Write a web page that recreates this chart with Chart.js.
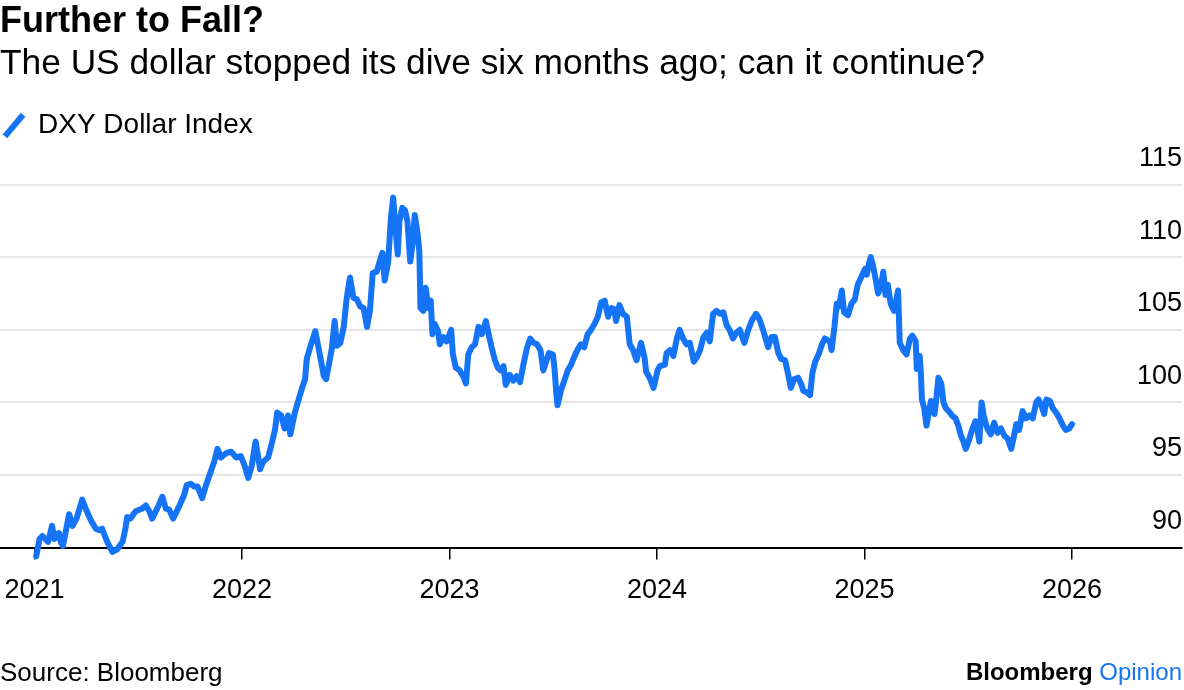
<!DOCTYPE html>
<html>
<head>
<meta charset="utf-8">
<title>Further to Fall?</title>
<script src="https://cdn.jsdelivr.net/npm/chart.js@4.4.1/dist/chart.umd.min.js"></script>
<style>
  html, body { margin: 0; padding: 0; background: #fff; }
  #wrap { position: relative; width: 1184px; height: 690px; font-family: 'Liberation Sans', Arial, Helvetica, sans-serif; color: #000; }
  #chart { position: absolute; left: 0; top: 0; }
  .foot { position: absolute; white-space: nowrap; }
  #source { left: 0; top: 659px; font-size: 26px; line-height: 26px; }
  #brand { right: 2px; top: 660px; font-size: 24px; line-height: 24px; }
  #brand b { font-weight: bold; }
  #brand span { color: #1474f5; }
</style>
</head>
<body>
<div id="wrap">
  <canvas id="chart" width="1184" height="690"></canvas>
  <div class="foot" id="source">Source: Bloomberg</div>
  <div class="foot" id="brand"><b>Bloomberg</b> <span>Opinion</span></div>
</div>
<script>
// DXY readings taken off the chart, roughly weekly, with the spikes kept
const dates = [
  '2021-01-04', '2021-01-10', '2021-01-15', '2021-01-25', '2021-02-01', '2021-02-05', '2021-02-13', '2021-02-16',
  '2021-02-20', '2021-02-25', '2021-03-03', '2021-03-09', '2021-03-16', '2021-03-26', '2021-04-01', '2021-04-10',
  '2021-04-19', '2021-04-25', '2021-04-30', '2021-05-09', '2021-05-18', '2021-05-27', '2021-06-05', '2021-06-10',
  '2021-06-13', '2021-06-19', '2021-06-28', '2021-07-10', '2021-07-16', '2021-07-22', '2021-07-27', '2021-08-05',
  '2021-08-14', '2021-08-20', '2021-08-26', '2021-09-02', '2021-09-12', '2021-09-21', '2021-09-26', '2021-10-03',
  '2021-10-09', '2021-10-15', '2021-10-23', '2021-10-29', '2021-11-05', '2021-11-13', '2021-11-19', '2021-11-25',
  '2021-12-04', '2021-12-13', '2021-12-22', '2021-12-30',
  '2022-01-06', '2022-01-12', '2022-01-18', '2022-01-25', '2022-02-02', '2022-02-07', '2022-02-16', '2022-02-22',
  '2022-02-28', '2022-03-04', '2022-03-11', '2022-03-17', '2022-03-23', '2022-03-27', '2022-04-04', '2022-04-10',
  '2022-04-16', '2022-04-22', '2022-04-25', '2022-05-01', '2022-05-10', '2022-05-16', '2022-05-25', '2022-05-29',
  '2022-06-02', '2022-06-08', '2022-06-13', '2022-06-17', '2022-06-23', '2022-06-29', '2022-07-04', '2022-07-10',
  '2022-07-16', '2022-07-22', '2022-07-28', '2022-08-03', '2022-08-09', '2022-08-14', '2022-08-19', '2022-08-26',
  '2022-09-01', '2022-09-05', '2022-09-09', '2022-09-15', '2022-09-20', '2022-09-24', '2022-09-28', '2022-10-02',
  '2022-10-05', '2022-10-10', '2022-10-15', '2022-10-19', '2022-10-24', '2022-10-28', '2022-11-01', '2022-11-06',
  '2022-11-09', '2022-11-11', '2022-11-16', '2022-11-20', '2022-11-25', '2022-11-29', '2022-12-02', '2022-12-06',
  '2022-12-12', '2022-12-15', '2022-12-21', '2022-12-27',
  '2023-01-04', '2023-01-07', '2023-01-12', '2023-01-19', '2023-01-25', '2023-01-30', '2023-02-03', '2023-02-09',
  '2023-02-15', '2023-02-21', '2023-02-27', '2023-03-06', '2023-03-12', '2023-03-16', '2023-03-22', '2023-03-27',
  '2023-04-01', '2023-04-06', '2023-04-10', '2023-04-17', '2023-04-23', '2023-04-29', '2023-05-05', '2023-05-11',
  '2023-05-17', '2023-05-23', '2023-05-29', '2023-06-04', '2023-06-10', '2023-06-15', '2023-06-25', '2023-07-02',
  '2023-07-05', '2023-07-08', '2023-07-10', '2023-07-16', '2023-07-22', '2023-07-28', '2023-08-03', '2023-08-08',
  '2023-08-14', '2023-08-20', '2023-08-26', '2023-09-01', '2023-09-07', '2023-09-13', '2023-09-19', '2023-09-25',
  '2023-10-01', '2023-10-07', '2023-10-13', '2023-10-18', '2023-10-21', '2023-10-27', '2023-11-02', '2023-11-09',
  '2023-11-14', '2023-11-20', '2023-11-26', '2023-12-04', '2023-12-10', '2023-12-13', '2023-12-19', '2023-12-26',
  '2024-01-02', '2024-01-06', '2024-01-15', '2024-01-18', '2024-01-24', '2024-01-30', '2024-02-05', '2024-02-10',
  '2024-02-16', '2024-02-22', '2024-02-28', '2024-03-06', '2024-03-11', '2024-03-17', '2024-03-23', '2024-03-29',
  '2024-04-03', '2024-04-09', '2024-04-15', '2024-04-21', '2024-04-27', '2024-05-03', '2024-05-08', '2024-05-14',
  '2024-05-20', '2024-05-26', '2024-06-03', '2024-06-10', '2024-06-17', '2024-06-24', '2024-06-30', '2024-07-06',
  '2024-07-12', '2024-07-15', '2024-07-21', '2024-07-27', '2024-08-02', '2024-08-07', '2024-08-14', '2024-08-20',
  '2024-08-24', '2024-08-30', '2024-09-06', '2024-09-11', '2024-09-15', '2024-09-21', '2024-09-27', '2024-10-01',
  '2024-10-06', '2024-10-12', '2024-10-18', '2024-10-23', '2024-11-01', '2024-11-04', '2024-11-09', '2024-11-13',
  '2024-11-17', '2024-11-22', '2024-11-26', '2024-12-03', '2024-12-09', '2024-12-15', '2024-12-20', '2024-12-26',
  '2025-01-02', '2025-01-05', '2025-01-09', '2025-01-12', '2025-01-16', '2025-01-20', '2025-01-25', '2025-01-30',
  '2025-02-03', '2025-02-07', '2025-02-11', '2025-02-16', '2025-02-22', '2025-03-01', '2025-03-04', '2025-03-10',
  '2025-03-16', '2025-03-22', '2025-03-26', '2025-04-01', '2025-04-03', '2025-04-08', '2025-04-10', '2025-04-12',
  '2025-04-16', '2025-04-20', '2025-04-24', '2025-04-28', '2025-05-04', '2025-05-07', '2025-05-11', '2025-05-16',
  '2025-05-20', '2025-05-24', '2025-05-29', '2025-06-04', '2025-06-10', '2025-06-15', '2025-06-19', '2025-06-24',
  '2025-06-28', '2025-07-03', '2025-07-09', '2025-07-15', '2025-07-19', '2025-07-22', '2025-07-26', '2025-07-30',
  '2025-08-05', '2025-08-11', '2025-08-17', '2025-08-23', '2025-08-29', '2025-09-04', '2025-09-10', '2025-09-16',
  '2025-09-20', '2025-09-25', '2025-09-30', '2025-10-06', '2025-10-12', '2025-10-18', '2025-10-24', '2025-10-30',
  '2025-11-03', '2025-11-08', '2025-11-13', '2025-11-17', '2025-11-23', '2025-11-28', '2025-12-04', '2025-12-10',
  '2025-12-16', '2025-12-21', '2025-12-27', '2026-01-01'
];

const dxyValues = [
  89.4, 90.6, 90.8, 90.4, 91.5, 90.6, 91.0, 90.4,
  90.1, 91.1, 92.3, 91.5, 92.0, 93.3, 92.7, 91.9,
  91.3, 91.2, 91.3, 90.4, 89.7, 89.9, 90.4, 91.3,
  92.1, 92.0, 92.5, 92.7, 92.9, 92.5, 92.0, 92.7,
  93.5, 92.7, 92.6, 92.0, 92.8, 93.6, 94.3, 94.4,
  94.2, 94.2, 93.4, 94.2, 95.0, 95.9, 96.8, 96.2,
  96.5, 96.6, 96.2, 96.3,
  95.6, 94.8, 95.6, 97.3, 95.4, 95.9, 96.2, 97.1,
  98.1, 99.3, 99.1, 98.2, 99.1, 97.8, 99.3, 100.1,
  100.9, 101.6, 103.0, 103.8, 104.9, 103.7, 101.8, 101.6,
  102.4, 103.7, 105.6, 103.9, 104.1, 105.2, 107.1, 108.6,
  107.2, 107.1, 106.6, 106.5, 105.2, 106.3, 108.9, 109.0,
  109.8, 110.3, 108.4, 109.6, 112.7, 114.1, 112.0, 110.2,
  112.5, 113.4, 113.2, 112.5, 109.7, 110.9, 112.9, 111.6,
  110.4, 106.5, 106.3, 107.9, 106.5, 107.0, 104.7, 105.4,
  104.9, 104.0, 104.5, 104.2,
  105.0, 103.3, 102.4, 102.2, 101.8, 101.3, 103.3, 103.8,
  104.0, 105.2, 104.7, 105.6, 104.5, 103.8, 102.9, 102.4,
  102.2, 102.5, 101.2, 101.9, 101.5, 101.8, 101.4, 102.6,
  103.7, 104.4, 104.1, 104.0, 103.6, 102.2, 103.4, 103.3,
  102.2, 100.6, 99.8, 100.8, 101.5, 102.2, 102.6, 103.1,
  103.6, 104.0, 103.8, 104.7, 105.0, 105.4, 105.9, 106.9,
  107.0, 105.9, 106.5, 106.4, 105.6, 106.7, 106.1, 105.9,
  104.0, 103.6, 102.9, 104.1, 103.1, 102.1, 101.7, 101.0,
  102.2, 102.5, 102.6, 103.4, 103.6, 103.2, 104.4, 105.0,
  104.4, 104.0, 104.1, 102.8, 103.1, 103.6, 104.5, 104.8,
  104.2, 106.1, 106.3, 106.1, 106.2, 105.3, 105.0, 104.4,
  104.8, 105.0, 104.1, 105.0, 105.7, 106.1, 105.7, 105.0,
  104.2, 103.8, 104.5, 104.5, 103.4, 103.0, 102.9, 101.8,
  101.0, 101.6, 101.7, 101.3, 100.8, 100.7, 100.5, 102.0,
  102.8, 103.3, 104.0, 104.4, 104.2, 103.6, 105.2, 106.8,
  106.6, 107.7, 106.2, 106.0, 106.8, 107.1, 108.1, 108.6,
  109.2, 108.8, 109.6, 110.0, 109.4, 108.6, 107.5, 108.0,
  109.0, 107.4, 108.1, 106.8, 106.3, 107.7, 104.1, 103.6,
  103.3, 104.4, 104.6, 104.2, 102.3, 103.2, 102.1, 100.2,
  99.6, 98.4, 99.3, 100.1, 99.2, 100.1, 101.7, 101.3,
  100.0, 99.6, 99.4, 99.1, 98.9, 98.4, 97.8, 97.3,
  96.8, 97.3, 98.1, 98.7, 98.0, 97.3, 100.0, 99.0,
  98.2, 97.8, 98.6, 97.9, 98.2, 97.7, 97.5, 96.8,
  97.5, 98.5, 98.1, 99.4, 98.9, 99.1, 98.9, 100.0,
  100.2, 99.8, 99.2, 100.2, 100.1, 99.6, 99.3, 98.9,
  98.4, 98.1, 98.2, 98.5
];

const xTickYears = [2021, 2022, 2023, 2024, 2025, 2026];
const yTicks = [90, 95, 100, 105, 110, 115];

const BLUE = '#1474f5';

// date string -> fractional year, so a plain linear axis can place it
function toYear(s) {
  const [y, m, d] = s.split('-').map(Number);
  const start = Date.UTC(y, 0, 1);
  const end = Date.UTC(y + 1, 0, 1);
  return y + (Date.UTC(y, m - 1, d) - start) / (end - start);
}

const points = dates.map((d, i) => ({ x: toYear(d), y: dxyValues[i] }));

Chart.defaults.font.family = "'Liberation Sans', Arial, Helvetica, sans-serif";
Chart.defaults.color = '#000';

// leave the empty band between the legend and the top gridline
const legendGap = {
  id: 'legendGap',
  beforeLayout(chart) {
    const legend = chart.legend;
    if (!legend || legend._gapDone) return;
    const fit = legend.fit;
    legend.fit = function () {
      fit.call(legend);
      legend.height += 35;
    };
    legend._gapDone = true;
  }
};

new Chart(document.getElementById('chart'), {
  type: 'line',
  data: {
    datasets: [{
      label: 'DXY Dollar Index',
      data: points,
      borderColor: BLUE,
      borderWidth: 6,
      pointRadius: 0,
      tension: 0,
      borderJoinStyle: 'round',
      borderCapStyle: 'round',
      clip: false
    }]
  },
  options: {
    responsive: false,
    animation: false,
    layout: { padding: { left: 0, right: 2, top: 0, bottom: 68 } },
    plugins: {
      title: {
        display: true,
        text: 'Further to Fall?',
        align: 'start',
        color: '#000',
        font: { size: 36, weight: 'bold' },
        padding: { top: 0, bottom: 0 }
      },
      subtitle: {
        display: true,
        text: 'The US dollar stopped its dive six months ago; can it continue?',
        align: 'start',
        color: '#000',
        font: { size: 35.3, weight: 'normal' },
        padding: { top: 0, bottom: 22 }
      },
      legend: {
        display: true,
        position: 'top',
        align: 'start',
        labels: {
          usePointStyle: true,
          boxWidth: 20,
          boxHeight: 20,
          padding: 4,
          color: '#000',
          font: { size: 28 },
          generateLabels: (chart) => [{
            text: chart.data.datasets[0].label,
            strokeStyle: BLUE,
            fillStyle: BLUE,
            lineWidth: 6,
            pointStyle: 'line',
            rotation: -50,
            hidden: false,
            datasetIndex: 0
          }]
        }
      },
      tooltip: { enabled: false }
    },
    scales: {
      x: {
        type: 'linear',
        min: 2020.834,
        max: 2026.53,
        afterBuildTicks: (scale) => { scale.ticks = xTickYears.map(v => ({ value: v })); },
        afterFit: (scale) => { scale.paddingLeft = 0; scale.paddingRight = 0; },
        ticks: {
          autoSkip: false,
          maxRotation: 0,
          padding: 15,
          color: '#000',
          font: { size: 27 },
          callback: (v) => String(v)
        },
        grid: {
          drawOnChartArea: false,
          drawTicks: true,
          tickLength: 12,
          color: '#000',
          lineWidth: 1.5
        },
        border: { display: true, color: '#000', width: 2 }
      },
      y: {
        position: 'right',
        min: 90,
        max: 115,
        afterBuildTicks: (scale) => { scale.ticks = yTicks.map(v => ({ value: v })); },
        ticks: {
          mirror: true,
          padding: 0,
          labelOffset: -26,
          color: '#000',
          font: { size: 27 },
          callback: (v) => String(v)
        },
        grid: {
          drawTicks: false,
          lineWidth: 2,
          color: (c) => (c.tick && c.tick.value === 90) ? 'rgba(0,0,0,0)' : '#e6e6e6'
        },
        border: { display: false }
      }
    }
  },
  plugins: [legendGap]
});
</script>
</body>
</html>
